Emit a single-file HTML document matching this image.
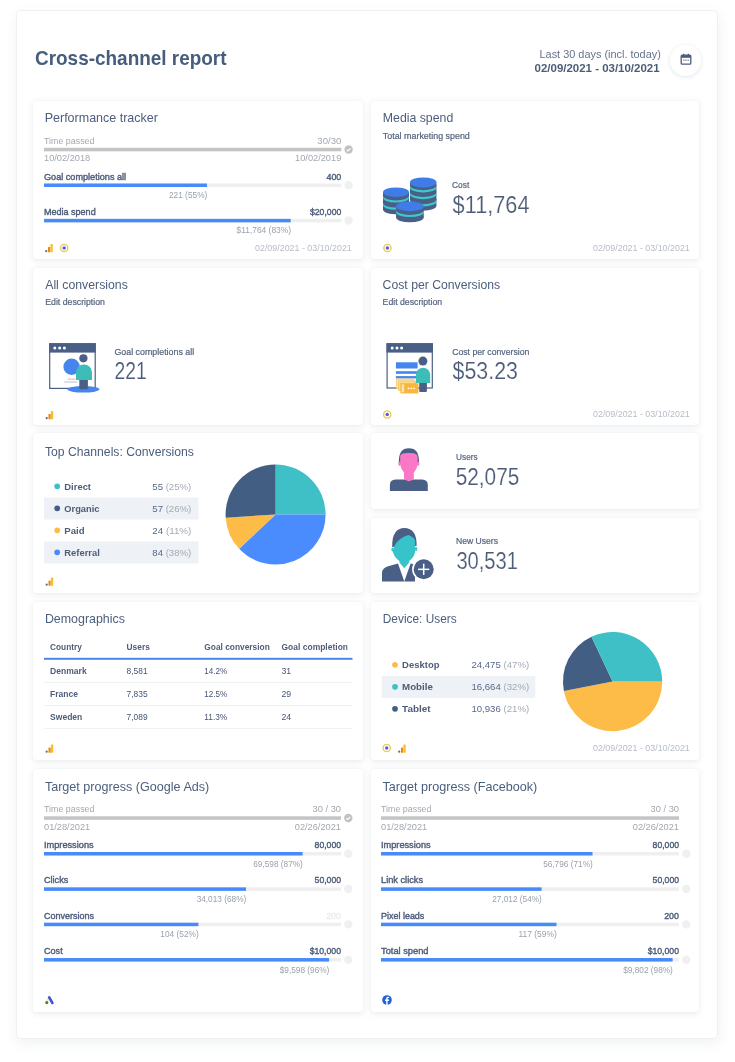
<!DOCTYPE html><html><head><meta charset="utf-8"><style>
html,body{margin:0;padding:0;width:735px;height:1062px;overflow:hidden;background:#fff;}
body{position:relative;font-family:"Liberation Sans", sans-serif;}
.card{position:absolute;background:#fff;border-radius:3px;box-shadow:0 0 1px rgba(50,60,90,0.10), 0 1.5px 6px rgba(60,75,110,0.10);}
.outer{position:absolute;left:17px;top:11px;width:700px;height:1027px;background:#fff;border-radius:4px;box-shadow:0 0 0 1px #f0f0f2, 1px 4px 14px rgba(60,75,110,0.09);}
svg.full{position:absolute;left:0;top:0;will-change:transform;}
</style></head><body>
<div class="outer"></div>
<div style="position:absolute;left:670px;top:44.5px;width:31px;height:31px;border-radius:50%;background:#fff;box-shadow:0 1px 4px rgba(60,70,90,0.14)"></div>
<div class="card" style="left:33px;top:100.5px;width:329.5px;height:158.8px"></div>
<div class="card" style="left:371px;top:100.5px;width:328px;height:158.8px"></div>
<div class="card" style="left:33px;top:268px;width:329.5px;height:156.8px"></div>
<div class="card" style="left:371px;top:268px;width:328px;height:156.8px"></div>
<div class="card" style="left:33px;top:433.2px;width:329.5px;height:159.6px"></div>
<div class="card" style="left:371px;top:433.2px;width:328px;height:75.6px"></div>
<div class="card" style="left:371px;top:517.8px;width:328px;height:75px"></div>
<div class="card" style="left:33px;top:602px;width:329.5px;height:158.4px"></div>
<div class="card" style="left:371px;top:602px;width:328px;height:158.4px"></div>
<div class="card" style="left:33px;top:769px;width:329.5px;height:243.3px"></div>
<div class="card" style="left:371px;top:769px;width:328px;height:243.3px"></div>
<svg class="full" width="735" height="1062" viewBox="0 0 735 1062" font-family="Liberation Sans, sans-serif">
<defs><clipPath id="demoClip"><rect x="270" y="630" width="77.6" height="30"/></clipPath></defs>
<g transform="translate(680,53)">
<rect x="1.2" y="2.2" width="9.6" height="9" rx="1" fill="none" stroke="#4a5d7e" stroke-width="1.3"/>
<rect x="1.2" y="2.2" width="9.6" height="2.6" fill="#4a5d7e"/>
<rect x="3" y="0.8" width="1.3" height="2.4" fill="#4a5d7e"/><rect x="7.7" y="0.8" width="1.3" height="2.4" fill="#4a5d7e"/>
<rect x="3.2" y="6.6" width="1.2" height="1.1" fill="#4a5d7e"/><rect x="5.4" y="6.6" width="1.2" height="1.1" fill="#4a5d7e"/><rect x="7.6" y="6.6" width="1.2" height="1.1" fill="#4a5d7e"/></g>
<rect x="44" y="147.8" width="297.3" height="3.5" fill="#c4c4c4" />
<circle cx="348.6" cy="149.5" r="4.2" fill="#c2c2c2"/><path d="M346.6 149.6 L348.0 150.9 L350.6 148.3" fill="none" stroke="#fff" stroke-width="1.1"/>
<rect x="44" y="183.5" width="297.3" height="3.5" fill="#efefef" />
<rect x="44" y="183.5" width="163" height="3.5" fill="#468afb" />
<circle cx="348.6" cy="185.2" r="4.2" fill="#f0f0f0"/>
<rect x="44" y="218.85" width="297.3" height="3.5" fill="#efefef" />
<rect x="44" y="218.85" width="246.7" height="3.5" fill="#468afb" />
<circle cx="348.6" cy="220.54999999999998" r="4.2" fill="#f0f0f0"/>
<g transform="translate(45,244)">
<circle cx="1.2" cy="7.2" r="1.1" fill="#7a6a50"/>
<rect x="3" y="3" width="2.2" height="5.3" rx="0.6" fill="#e8890c"/>
<rect x="5.4" y="0" width="2.3" height="8.3" rx="0.6" fill="#fbbc2a"/></g>
<circle cx="64.2" cy="248" r="3.6" fill="#fff" stroke="#e9c95a" stroke-width="1.4"/><circle cx="64.2" cy="248" r="1.7" fill="#4f5fd6"/>
<circle cx="387.4" cy="248" r="3.6" fill="#fff" stroke="#e9c95a" stroke-width="1.4"/><circle cx="387.4" cy="248" r="1.7" fill="#4f5fd6"/>
<g transform="translate(45.5,411)">
<circle cx="1.2" cy="7.2" r="1.1" fill="#7a6a50"/>
<rect x="3" y="3" width="2.2" height="5.3" rx="0.6" fill="#e8890c"/>
<rect x="5.4" y="0" width="2.3" height="8.3" rx="0.6" fill="#fbbc2a"/></g>
<circle cx="387.2" cy="414.5" r="3.6" fill="#fff" stroke="#e9c95a" stroke-width="1.4"/><circle cx="387.2" cy="414.5" r="1.7" fill="#4f5fd6"/>
<circle cx="57.2" cy="486.3" r="2.85" fill="#3fc0c6"/>
<rect x="44" y="497.5" width="154.4" height="22" fill="#eef1f5" />
<circle cx="57.2" cy="508.3" r="2.85" fill="#435e83"/>
<circle cx="57.2" cy="530.3" r="2.85" fill="#fdbb48"/>
<rect x="44" y="541.5" width="154.4" height="22" fill="#eef1f5" />
<circle cx="57.2" cy="552.3" r="2.85" fill="#468afb"/>
<path d="M275.6,514.5 L275.60,464.50 A50,50 0 0 1 325.60,514.50 Z" fill="#3fc0c6"/><path d="M275.6,514.5 L325.60,514.50 A50,50 0 0 1 239.15,548.73 Z" fill="#4a8bfe"/><path d="M275.6,514.5 L239.15,548.73 A50,50 0 0 1 225.70,517.64 Z" fill="#fdbb48"/><path d="M275.6,514.5 L225.70,517.64 A50,50 0 0 1 275.60,464.50 Z" fill="#435e83"/>
<g transform="translate(45.5,577.5)">
<circle cx="1.2" cy="7.2" r="1.1" fill="#7a6a50"/>
<rect x="3" y="3" width="2.2" height="5.3" rx="0.6" fill="#e8890c"/>
<rect x="5.4" y="0" width="2.3" height="8.3" rx="0.6" fill="#fbbc2a"/></g>
<rect x="44" y="657.8" width="308.5" height="2" fill="#4a86e8" />
<rect x="44" y="682" width="308.5" height="1" fill="#f0f1f3" />
<rect x="44" y="705" width="308.5" height="1" fill="#f0f1f3" />
<rect x="44" y="728" width="308.5" height="1" fill="#f0f1f3" />
<g transform="translate(45.5,744.5)">
<circle cx="1.2" cy="7.2" r="1.1" fill="#7a6a50"/>
<rect x="3" y="3" width="2.2" height="5.3" rx="0.6" fill="#e8890c"/>
<rect x="5.4" y="0" width="2.3" height="8.3" rx="0.6" fill="#fbbc2a"/></g>
<circle cx="395.0" cy="664.8" r="2.85" fill="#fdbb48"/>
<rect x="381.8" y="676.0" width="153.49999999999994" height="22" fill="#eef1f5" />
<circle cx="395.0" cy="686.8" r="2.85" fill="#3fc0c6"/>
<circle cx="395.0" cy="708.8" r="2.85" fill="#435e83"/>
<path d="M612.6,681.6 L662.20,681.60 A49.6,49.6 0 0 1 563.88,690.89 Z" fill="#fdbb48"/><path d="M612.6,681.6 L563.88,690.89 A49.6,49.6 0 0 1 591.48,636.72 Z" fill="#435e83"/><path d="M612.6,681.6 L591.48,636.72 A49.6,49.6 0 0 1 662.20,681.60 Z" fill="#3fc0c6"/>
<circle cx="386.7" cy="748" r="3.6" fill="#fff" stroke="#e9c95a" stroke-width="1.4"/><circle cx="386.7" cy="748" r="1.7" fill="#4f5fd6"/>
<g transform="translate(398,744.5)">
<circle cx="1.2" cy="7.2" r="1.1" fill="#7a6a50"/>
<rect x="3" y="3" width="2.2" height="5.3" rx="0.6" fill="#e8890c"/>
<rect x="5.4" y="0" width="2.3" height="8.3" rx="0.6" fill="#fbbc2a"/></g>
<rect x="44" y="816.3" width="297" height="3.5" fill="#c4c4c4" />
<circle cx="348.3" cy="818.0" r="4.2" fill="#c2c2c2"/><path d="M346.3 818.1 L347.7 819.4 L350.3 816.8" fill="none" stroke="#fff" stroke-width="1.1"/>
<rect x="44" y="852" width="297" height="3.5" fill="#efefef" />
<rect x="44" y="852" width="258.6" height="3.5" fill="#468afb" />
<circle cx="348.3" cy="853.7" r="4.2" fill="#f0f0f0"/>
<rect x="44" y="887.35" width="297" height="3.5" fill="#efefef" />
<rect x="44" y="887.35" width="202" height="3.5" fill="#468afb" />
<circle cx="348.3" cy="889.0500000000001" r="4.2" fill="#f0f0f0"/>
<rect x="44" y="922.7" width="297" height="3.5" fill="#efefef" />
<rect x="44" y="922.7" width="154.4" height="3.5" fill="#468afb" />
<circle cx="348.3" cy="924.4000000000001" r="4.2" fill="#f0f0f0"/>
<rect x="44" y="958.0500000000001" width="297" height="3.5" fill="#efefef" />
<rect x="44" y="958.0500000000001" width="285.1" height="3.5" fill="#468afb" />
<circle cx="348.3" cy="959.7500000000001" r="4.2" fill="#f0f0f0"/>
<g transform="translate(44,995)">
<path d="M5.1 2.6 L3.4 5.4" stroke="#f8e7a0" stroke-width="2" stroke-linecap="round"/>
<path d="M5.2 2.4 L8.4 8" stroke="#4152dc" stroke-width="2.6" stroke-linecap="round"/>
<circle cx="2.8" cy="7.6" r="1.6" fill="#3d8a2e"/></g>
<rect x="381" y="816.3" width="298" height="3.5" fill="#c4c4c4" />
<rect x="381" y="852" width="298" height="3.5" fill="#efefef" />
<rect x="381" y="852" width="211.5" height="3.5" fill="#468afb" />
<circle cx="686.3" cy="853.7" r="4.2" fill="#f0f0f0"/>
<rect x="381" y="887.35" width="298" height="3.5" fill="#efefef" />
<rect x="381" y="887.35" width="160.60000000000002" height="3.5" fill="#468afb" />
<circle cx="686.3" cy="889.0500000000001" r="4.2" fill="#f0f0f0"/>
<rect x="381" y="922.7" width="298" height="3.5" fill="#efefef" />
<rect x="381" y="922.7" width="175.5" height="3.5" fill="#468afb" />
<circle cx="686.3" cy="924.4000000000001" r="4.2" fill="#f0f0f0"/>
<rect x="381" y="958.0500000000001" width="298" height="3.5" fill="#efefef" />
<rect x="381" y="958.0500000000001" width="291.6" height="3.5" fill="#468afb" />
<circle cx="686.3" cy="959.7500000000001" r="4.2" fill="#f0f0f0"/>
<g transform="translate(382,995)">
<circle cx="5" cy="5" r="4.8" fill="#1f63d8"/>
<path d="M5.6 10 V5.9 H6.9 L7.1 4.5 H5.6 V3.7 C5.6 3.3 5.8 3.1 6.2 3.1 H7.1 V1.9 C6.8 1.85 6.4 1.8 6 1.8 C4.9 1.8 4.2 2.5 4.2 3.6 V4.5 H3 V5.9 H4.2 V10 Z" fill="#fff"/></g>
<ellipse cx="423.2" cy="205.8" rx="13.2" ry="5.0" fill="#4a5f86"/><rect x="410.0" y="182.4" width="26.4" height="23.400000000000006" fill="#4a5f86"/><ellipse cx="423.2" cy="201.4" rx="13.2" ry="5.0" fill="#3cc8cc"/><ellipse cx="423.2" cy="199.20000000000002" rx="13.2" ry="5.0" fill="#4a5f86"/><ellipse cx="423.2" cy="194.2" rx="13.2" ry="5.0" fill="#3cc8cc"/><ellipse cx="423.2" cy="192.0" rx="13.2" ry="5.0" fill="#4a5f86"/><ellipse cx="423.2" cy="187.5" rx="13.2" ry="5.0" fill="#3cc8cc"/><ellipse cx="423.2" cy="185.3" rx="13.2" ry="5.0" fill="#4a5f86"/><ellipse cx="423.2" cy="182.4" rx="13.2" ry="5.0" fill="#3f7ce8"/><ellipse cx="396.0" cy="209.5" rx="13.0" ry="4.8" fill="#4a5f86"/><rect x="383.0" y="192.2" width="26.0" height="17.30000000000001" fill="#4a5f86"/><ellipse cx="396.0" cy="204.99999999999997" rx="13.0" ry="4.8" fill="#3cc8cc"/><ellipse cx="396.0" cy="202.79999999999998" rx="13.0" ry="4.8" fill="#4a5f86"/><ellipse cx="396.0" cy="197.79999999999998" rx="13.0" ry="4.8" fill="#3cc8cc"/><ellipse cx="396.0" cy="195.6" rx="13.0" ry="4.8" fill="#4a5f86"/><ellipse cx="396.0" cy="192.2" rx="13.0" ry="4.8" fill="#3f7ce8"/><ellipse cx="409.9" cy="217.5" rx="13.8" ry="4.8" fill="#4a5f86"/><rect x="396.09999999999997" y="206.4" width="27.6" height="11.099999999999994" fill="#4a5f86"/><ellipse cx="409.9" cy="212.29999999999998" rx="13.8" ry="4.8" fill="#3cc8cc"/><ellipse cx="409.9" cy="210.1" rx="13.8" ry="4.8" fill="#4a5f86"/><ellipse cx="409.9" cy="206.4" rx="13.8" ry="4.8" fill="#3f7ce8"/>
<rect x="49.7" y="343.8" width="45.5" height="44.6" fill="#fff" stroke="#4a5f86" stroke-width="1.2"/><rect x="49.1" y="343.2" width="46.7" height="9.4" fill="#4a5f86"/><circle cx="54.8" cy="347.9" r="1.5" fill="#fff"/><circle cx="59.7" cy="347.9" r="1.5" fill="#fff"/><circle cx="64.4" cy="347.9" r="1.5" fill="#fff"/><circle cx="71.6" cy="366.8" r="8.2" fill="#4684ee"/><rect x="67.5" y="378.5" width="8" height="1.2" fill="#e9b9cc"/><rect x="64.2" y="381.4" width="13" height="1.2" fill="#c4ccd8"/><ellipse cx="83.4" cy="389.3" rx="16" ry="3.3" fill="#4684ee"/><rect x="79.3" y="378" width="8.6" height="11.3" rx="1" fill="#4a5f86"/><path d="M76,380 L76,372.4 A8,8 0 0 1 92,372.4 L92,380 Z" fill="#3cbdb8"/><circle cx="83.4" cy="358.3" r="4.1" fill="#4a5f86"/><rect x="387.1" y="343.8" width="45.2" height="44.2" fill="#fff" stroke="#4a5f86" stroke-width="1.2"/><rect x="386.5" y="343.2" width="46.4" height="9.4" fill="#4a5f86"/><circle cx="392.2" cy="347.9" r="1.5" fill="#fff"/><circle cx="397.0" cy="347.9" r="1.5" fill="#fff"/><circle cx="401.6" cy="347.9" r="1.5" fill="#fff"/><rect x="395.9" y="362.3" width="21.7" height="6.2" fill="#4684ee"/><rect x="395.9" y="371.2" width="21.7" height="2.6" fill="#4684ee"/><rect x="395.9" y="376.1" width="21.7" height="2.3" fill="#4684ee"/><rect x="396.3" y="379" width="17.5" height="9.5" fill="#fde3a6" stroke="#f6c45a" stroke-width="0.6"/><rect x="398.3" y="381" width="17.5" height="9.5" fill="#fcd98a" stroke="#f6c45a" stroke-width="0.6"/><rect x="400.4" y="383.2" width="18" height="10.2" fill="#f8b63c"/><rect x="401.6" y="384.4" width="2.6" height="7.8" fill="#fde7b5"/><circle cx="408.5" cy="388.3" r="0.9" fill="#fff"/><circle cx="411.2" cy="388.3" r="0.9" fill="#fff"/><circle cx="413.9" cy="388.3" r="0.9" fill="#fff"/><rect x="419.2" y="380" width="7.7" height="12.1" rx="1" fill="#4a5f86"/><path d="M415.9,383 L415.9,374.8 A7.15,7.15 0 0 1 430.2,374.8 L430.2,383 Z" fill="#3cbdb8"/><circle cx="422.9" cy="361.1" r="4.5" fill="#4a5f86"/><path d="M389.9,491 L389.9,485 Q389.9,479.8 395.5,479.6 L422.2,479.6 Q427.8,479.8 427.8,485 L427.8,491 Z" fill="#4a5f86"/><path d="M404,468 L404,478.8 Q408.9,483.6 413.8,478.8 L413.8,468 Z" fill="#fb78c6"/><path d="M398.9,464 C398.2,452.5 402,448.2 408.9,448.2 C415.8,448.2 419.6,452.5 418.9,464 Z" fill="#4a5f86"/><path d="M400.2,456.5 C400.2,453.6 404,453 408.9,453 C413.8,453 417.6,453.6 417.6,457 L417.6,462.5 C417.6,467.5 415.5,470.5 413.8,472.5 L404,472.5 C402.3,470.5 400.2,467.5 400.2,462.5 Z" fill="#fb78c6"/><ellipse cx="399.6" cy="463.8" rx="1.3" ry="2.1" fill="#fb78c6"/><ellipse cx="418.2" cy="463.8" rx="1.3" ry="2.1" fill="#fb78c6"/><path d="M382,581.6 L382,573.5 C382,569 385,567 389,566 L398,563.6 L404.3,581.6 Z" fill="#4a5f86"/><path d="M410.6,563.6 L415,564.6 L415,581.6 L404.3,581.6 Z" fill="#4a5f86"/><path d="M392.2,547 C391.8,534 396.5,528 404.4,528 C412.5,528 417,534 416.6,546 Z" fill="#4a5f86"/><path d="M394.5,546 C397,540.5 402,537 408.5,535 C412,536.5 414.6,538 415.2,540.5 L415.2,550 C415.2,555 412.3,558.8 409.2,561 L409.2,562.6 L404.3,568.3 L399.4,562.6 L399.4,561 C396.3,558.8 392.8,555 392.8,550 Z" fill="#36c3c9"/><ellipse cx="392.6" cy="549.5" rx="1.2" ry="2" fill="#36c3c9"/><ellipse cx="416.1" cy="549" rx="1.2" ry="2" fill="#36c3c9"/><circle cx="423.7" cy="569.3" r="11.6" fill="#fff"/><circle cx="423.7" cy="569.3" r="10" fill="#4a5f86"/><rect x="418.1" y="568.6" width="11.2" height="1.5" fill="#fff"/><rect x="422.95" y="563.7" width="1.5" height="11.2" fill="#fff"/>
<text x="35.00" y="65.30" font-size="20.66" fill="#475d7e" text-anchor="start" font-weight="700" textLength="191.55" lengthAdjust="spacingAndGlyphs">Cross-channel report</text>
<text x="539.50" y="57.90" font-size="11.36" fill="#65728a" text-anchor="start" textLength="121.36" lengthAdjust="spacingAndGlyphs">Last 30 days (incl. today)</text>
<text x="534.60" y="72.00" font-size="11.36" fill="#4d5c76" text-anchor="start" font-weight="700" textLength="124.97" lengthAdjust="spacingAndGlyphs">02/09/2021 - 03/10/2021</text>
<text x="44.70" y="122.20" font-size="13.43" fill="#4c5e7d" text-anchor="start" textLength="113.27" lengthAdjust="spacingAndGlyphs">Performance tracker</text>
<text x="44.00" y="143.80" font-size="9.30" fill="#a2a8b2" text-anchor="start" textLength="50.44" lengthAdjust="spacingAndGlyphs">Time passed</text>
<text x="341.30" y="143.80" font-size="9.30" fill="#a2a8b2" text-anchor="end" textLength="23.92" lengthAdjust="spacingAndGlyphs">30/30</text>
<text x="44.00" y="161.30" font-size="8.99" fill="#a2a8b2" text-anchor="start" textLength="46.24" lengthAdjust="spacingAndGlyphs">10/02/2018</text>
<text x="341.30" y="161.30" font-size="8.99" fill="#a2a8b2" text-anchor="end" textLength="46.24" lengthAdjust="spacingAndGlyphs">10/02/2019</text>
<text x="44.00" y="179.50" font-size="9.09" fill="#4d5d7a" text-anchor="start" textLength="82.12" lengthAdjust="spacingAndGlyphs" stroke="#4d5d7a" stroke-width="0.4">Goal completions all</text>
<text x="341.30" y="179.50" font-size="9.09" fill="#4d5d7a" text-anchor="end" textLength="14.82" lengthAdjust="spacingAndGlyphs" stroke="#4d5d7a" stroke-width="0.4">400</text>
<text x="207.30" y="198.00" font-size="8.88" fill="#9aa1ab" text-anchor="end" textLength="38.36" lengthAdjust="spacingAndGlyphs">221 (55%)</text>
<text x="44.00" y="214.85" font-size="9.09" fill="#4d5d7a" text-anchor="start" textLength="51.65" lengthAdjust="spacingAndGlyphs" stroke="#4d5d7a" stroke-width="0.4">Media spend</text>
<text x="341.30" y="214.85" font-size="9.09" fill="#4d5d7a" text-anchor="end" textLength="31.34" lengthAdjust="spacingAndGlyphs" stroke="#4d5d7a" stroke-width="0.4">$20,000</text>
<text x="291.00" y="233.35" font-size="8.88" fill="#9aa1ab" text-anchor="end" textLength="54.50" lengthAdjust="spacingAndGlyphs">$11,764 (83%)</text>
<text x="255.00" y="250.50" font-size="9.30" fill="#b7bcc5" text-anchor="start" textLength="96.78" lengthAdjust="spacingAndGlyphs">02/09/2021 - 03/10/2021</text>
<text x="382.80" y="122.30" font-size="13.43" fill="#4c5e7d" text-anchor="start" textLength="70.45" lengthAdjust="spacingAndGlyphs">Media spend</text>
<text x="382.80" y="139.00" font-size="9.30" fill="#56657f" text-anchor="start" textLength="87.02" lengthAdjust="spacingAndGlyphs" stroke="#56657f" stroke-width="0.22">Total marketing spend</text>
<text x="452.10" y="188.40" font-size="9.30" fill="#56657f" text-anchor="start" textLength="17.17" lengthAdjust="spacingAndGlyphs" stroke="#56657f" stroke-width="0.22">Cost</text>
<text x="452.60" y="212.80" font-size="23.24" fill="#4d5d78" text-anchor="start" textLength="76.90" lengthAdjust="spacingAndGlyphs" stroke="#fff" stroke-width="0.15">$11,764</text>
<text x="593.00" y="250.50" font-size="9.30" fill="#b7bcc5" text-anchor="start" textLength="96.78" lengthAdjust="spacingAndGlyphs">02/09/2021 - 03/10/2021</text>
<text x="45.20" y="288.70" font-size="13.43" fill="#4c5e7d" text-anchor="start" textLength="82.66" lengthAdjust="spacingAndGlyphs">All conversions</text>
<text x="45.20" y="305.20" font-size="9.30" fill="#56657f" text-anchor="start" textLength="59.77" lengthAdjust="spacingAndGlyphs" stroke="#56657f" stroke-width="0.22">Edit description</text>
<text x="114.40" y="355.00" font-size="9.30" fill="#56657f" text-anchor="start" textLength="79.83" lengthAdjust="spacingAndGlyphs" stroke="#56657f" stroke-width="0.22">Goal completions all</text>
<text x="114.40" y="379.10" font-size="23.24" fill="#4d5d78" text-anchor="start" textLength="32.27" lengthAdjust="spacingAndGlyphs" stroke="#fff" stroke-width="0.15">221</text>
<text x="382.60" y="288.80" font-size="13.43" fill="#4c5e7d" text-anchor="start" textLength="117.56" lengthAdjust="spacingAndGlyphs">Cost per Conversions</text>
<text x="382.60" y="305.20" font-size="9.30" fill="#56657f" text-anchor="start" textLength="59.57" lengthAdjust="spacingAndGlyphs" stroke="#56657f" stroke-width="0.22">Edit description</text>
<text x="452.20" y="355.00" font-size="9.30" fill="#56657f" text-anchor="start" textLength="77.12" lengthAdjust="spacingAndGlyphs" stroke="#56657f" stroke-width="0.22">Cost per conversion</text>
<text x="452.60" y="379.10" font-size="23.24" fill="#4d5d78" text-anchor="start" textLength="65.36" lengthAdjust="spacingAndGlyphs" stroke="#fff" stroke-width="0.15">$53.23</text>
<text x="593.00" y="417.00" font-size="9.30" fill="#b7bcc5" text-anchor="start" textLength="96.78" lengthAdjust="spacingAndGlyphs">02/09/2021 - 03/10/2021</text>
<text x="44.90" y="455.80" font-size="13.43" fill="#4c5e7d" text-anchor="start" textLength="149.08" lengthAdjust="spacingAndGlyphs">Top Channels: Conversions</text>
<text x="64.30" y="489.60" font-size="9.71" fill="#4d5d7a" text-anchor="start" font-weight="700" textLength="26.72" lengthAdjust="spacingAndGlyphs">Direct</text>
<text x="152.30" y="489.60" font-size="9.71" fill="#58698a" text-anchor="start" textLength="39.00" lengthAdjust="spacingAndGlyphs"><tspan fill="#58698a">55 </tspan><tspan fill="#a4aab4">(25%)</tspan></text>
<text x="64.30" y="511.60" font-size="9.71" fill="#4d5d7a" text-anchor="start" font-weight="700" textLength="35.15" lengthAdjust="spacingAndGlyphs">Organic</text>
<text x="152.30" y="511.60" font-size="9.71" fill="#58698a" text-anchor="start" textLength="39.00" lengthAdjust="spacingAndGlyphs"><tspan fill="#58698a">57 </tspan><tspan fill="#a4aab4">(26%)</tspan></text>
<text x="64.30" y="533.60" font-size="9.71" fill="#4d5d7a" text-anchor="start" font-weight="700" textLength="20.25" lengthAdjust="spacingAndGlyphs">Paid</text>
<text x="152.30" y="533.60" font-size="9.71" fill="#58698a" text-anchor="start" textLength="39.00" lengthAdjust="spacingAndGlyphs"><tspan fill="#58698a">24 </tspan><tspan fill="#a4aab4">(11%)</tspan></text>
<text x="64.30" y="555.60" font-size="9.71" fill="#4d5d7a" text-anchor="start" font-weight="700" textLength="35.52" lengthAdjust="spacingAndGlyphs">Referral</text>
<text x="152.30" y="555.60" font-size="9.71" fill="#58698a" text-anchor="start" textLength="39.00" lengthAdjust="spacingAndGlyphs"><tspan fill="#58698a">84 </tspan><tspan fill="#a4aab4">(38%)</tspan></text>
<text x="456.10" y="459.60" font-size="9.30" fill="#56657f" text-anchor="start" textLength="21.51" lengthAdjust="spacingAndGlyphs" stroke="#56657f" stroke-width="0.22">Users</text>
<text x="455.70" y="484.90" font-size="23.24" fill="#4d5d78" text-anchor="start" textLength="63.56" lengthAdjust="spacingAndGlyphs" stroke="#fff" stroke-width="0.15">52,075</text>
<text x="456.10" y="543.60" font-size="9.30" fill="#56657f" text-anchor="start" textLength="41.90" lengthAdjust="spacingAndGlyphs" stroke="#56657f" stroke-width="0.22">New Users</text>
<text x="456.40" y="568.80" font-size="23.24" fill="#4d5d78" text-anchor="start" textLength="61.57" lengthAdjust="spacingAndGlyphs" stroke="#fff" stroke-width="0.15">30,531</text>
<text x="44.90" y="622.80" font-size="13.43" fill="#4c5e7d" text-anchor="start" textLength="80.06" lengthAdjust="spacingAndGlyphs">Demographics</text>
<text x="50.10" y="649.70" font-size="9.09" fill="#4d5d7a" text-anchor="start" font-weight="700" textLength="31.69" lengthAdjust="spacingAndGlyphs">Country</text>
<text x="126.60" y="649.70" font-size="9.09" fill="#4d5d7a" text-anchor="start" font-weight="700" textLength="23.20" lengthAdjust="spacingAndGlyphs">Users</text>
<text x="204.30" y="649.70" font-size="9.09" fill="#4d5d7a" text-anchor="start" font-weight="700" textLength="65.46" lengthAdjust="spacingAndGlyphs">Goal conversion</text>
<text x="281.50" y="649.70" font-size="9.09" fill="#4d5d7a" text-anchor="start" font-weight="700" textLength="71.22" lengthAdjust="spacingAndGlyphs" clip-path="url(#demoClip)">Goal completions</text>
<text x="50.10" y="673.50" font-size="9.09" fill="#4d5d7a" text-anchor="start" font-weight="700" textLength="36.59" lengthAdjust="spacingAndGlyphs">Denmark</text>
<text x="126.60" y="673.50" font-size="9.09" fill="#455674" text-anchor="start" textLength="21.03" lengthAdjust="spacingAndGlyphs">8,581</text>
<text x="204.30" y="673.50" font-size="9.09" fill="#455674" text-anchor="start" textLength="22.92" lengthAdjust="spacingAndGlyphs">14.2%</text>
<text x="281.50" y="673.50" font-size="9.09" fill="#455674" text-anchor="start" textLength="9.69" lengthAdjust="spacingAndGlyphs">31</text>
<text x="50.10" y="696.50" font-size="9.09" fill="#4d5d7a" text-anchor="start" font-weight="700" textLength="27.80" lengthAdjust="spacingAndGlyphs">France</text>
<text x="126.60" y="696.50" font-size="9.09" fill="#455674" text-anchor="start" textLength="21.03" lengthAdjust="spacingAndGlyphs">7,835</text>
<text x="204.30" y="696.50" font-size="9.09" fill="#455674" text-anchor="start" textLength="22.92" lengthAdjust="spacingAndGlyphs">12.5%</text>
<text x="281.50" y="696.50" font-size="9.09" fill="#455674" text-anchor="start" textLength="9.69" lengthAdjust="spacingAndGlyphs">29</text>
<text x="50.10" y="719.50" font-size="9.09" fill="#4d5d7a" text-anchor="start" font-weight="700" textLength="32.18" lengthAdjust="spacingAndGlyphs">Sweden</text>
<text x="126.60" y="719.50" font-size="9.09" fill="#455674" text-anchor="start" textLength="21.03" lengthAdjust="spacingAndGlyphs">7,089</text>
<text x="204.30" y="719.50" font-size="9.09" fill="#455674" text-anchor="start" textLength="22.92" lengthAdjust="spacingAndGlyphs">11.3%</text>
<text x="281.50" y="719.50" font-size="9.09" fill="#455674" text-anchor="start" textLength="9.69" lengthAdjust="spacingAndGlyphs">24</text>
<text x="382.80" y="622.80" font-size="13.43" fill="#4c5e7d" text-anchor="start" textLength="73.84" lengthAdjust="spacingAndGlyphs">Device: Users</text>
<text x="402.10" y="668.10" font-size="9.71" fill="#4d5d7a" text-anchor="start" font-weight="700" textLength="37.38" lengthAdjust="spacingAndGlyphs">Desktop</text>
<text x="471.40" y="668.10" font-size="9.71" fill="#58698a" text-anchor="start" textLength="57.77" lengthAdjust="spacingAndGlyphs"><tspan fill="#58698a">24,475 </tspan><tspan fill="#a4aab4">(47%)</tspan></text>
<text x="402.10" y="690.10" font-size="9.71" fill="#4d5d7a" text-anchor="start" font-weight="700">Mobile</text>
<text x="471.40" y="690.10" font-size="9.71" fill="#58698a" text-anchor="start" textLength="57.77" lengthAdjust="spacingAndGlyphs"><tspan fill="#58698a">16,664 </tspan><tspan fill="#a4aab4">(32%)</tspan></text>
<text x="402.10" y="712.10" font-size="9.71" fill="#4d5d7a" text-anchor="start" font-weight="700" textLength="28.57" lengthAdjust="spacingAndGlyphs">Tablet</text>
<text x="471.40" y="712.10" font-size="9.71" fill="#58698a" text-anchor="start" textLength="57.77" lengthAdjust="spacingAndGlyphs"><tspan fill="#58698a">10,936 </tspan><tspan fill="#a4aab4">(21%)</tspan></text>
<text x="593.00" y="750.50" font-size="9.30" fill="#b7bcc5" text-anchor="start" textLength="96.78" lengthAdjust="spacingAndGlyphs">02/09/2021 - 03/10/2021</text>
<text x="44.90" y="790.80" font-size="13.43" fill="#4c5e7d" text-anchor="start" textLength="164.41" lengthAdjust="spacingAndGlyphs">Target progress (Google Ads)</text>
<text x="44.00" y="812.30" font-size="9.30" fill="#a2a8b2" text-anchor="start" textLength="50.44" lengthAdjust="spacingAndGlyphs">Time passed</text>
<text x="341.00" y="812.30" font-size="9.30" fill="#a2a8b2" text-anchor="end">30 / 30</text>
<text x="44.00" y="829.80" font-size="8.99" fill="#a2a8b2" text-anchor="start" textLength="46.24" lengthAdjust="spacingAndGlyphs">01/28/2021</text>
<text x="341.00" y="829.80" font-size="8.99" fill="#a2a8b2" text-anchor="end" textLength="46.24" lengthAdjust="spacingAndGlyphs">02/26/2021</text>
<text x="44.00" y="848.00" font-size="9.09" fill="#4d5d7a" text-anchor="start" textLength="49.60" lengthAdjust="spacingAndGlyphs" stroke="#4d5d7a" stroke-width="0.4">Impressions</text>
<text x="341.00" y="848.00" font-size="9.09" fill="#4d5d7a" text-anchor="end" textLength="26.40" lengthAdjust="spacingAndGlyphs" stroke="#4d5d7a" stroke-width="0.4">80,000</text>
<text x="302.90" y="866.50" font-size="8.88" fill="#9aa1ab" text-anchor="end" textLength="49.67" lengthAdjust="spacingAndGlyphs">69,598 (87%)</text>
<text x="44.00" y="883.35" font-size="9.09" fill="#4d5d7a" text-anchor="start" stroke="#4d5d7a" stroke-width="0.4">Clicks</text>
<text x="341.00" y="883.35" font-size="9.09" fill="#4d5d7a" text-anchor="end" textLength="26.40" lengthAdjust="spacingAndGlyphs" stroke="#4d5d7a" stroke-width="0.4">50,000</text>
<text x="246.30" y="901.85" font-size="8.88" fill="#9aa1ab" text-anchor="end" textLength="49.67" lengthAdjust="spacingAndGlyphs">34,013 (68%)</text>
<text x="44.00" y="918.70" font-size="9.09" fill="#4d5d7a" text-anchor="start" textLength="49.96" lengthAdjust="spacingAndGlyphs" stroke="#4d5d7a" stroke-width="0.4">Conversions</text>
<text x="341.00" y="918.70" font-size="9.09" fill="#ececec" text-anchor="end" textLength="14.82" lengthAdjust="spacingAndGlyphs" stroke="#ececec" stroke-width="0.4">200</text>
<text x="198.70" y="937.20" font-size="8.88" fill="#9aa1ab" text-anchor="end" textLength="38.36" lengthAdjust="spacingAndGlyphs">104 (52%)</text>
<text x="44.00" y="954.05" font-size="9.09" fill="#4d5d7a" text-anchor="start" stroke="#4d5d7a" stroke-width="0.4">Cost</text>
<text x="341.00" y="954.05" font-size="9.09" fill="#4d5d7a" text-anchor="end" textLength="31.34" lengthAdjust="spacingAndGlyphs" stroke="#4d5d7a" stroke-width="0.4">$10,000</text>
<text x="329.40" y="972.55" font-size="8.88" fill="#9aa1ab" text-anchor="end" textLength="49.67" lengthAdjust="spacingAndGlyphs">$9,598 (96%)</text>
<text x="382.40" y="790.70" font-size="13.43" fill="#4c5e7d" text-anchor="start" textLength="154.93" lengthAdjust="spacingAndGlyphs">Target progress (Facebook)</text>
<text x="381.00" y="812.30" font-size="9.30" fill="#a2a8b2" text-anchor="start" textLength="50.44" lengthAdjust="spacingAndGlyphs">Time passed</text>
<text x="679.00" y="812.30" font-size="9.30" fill="#a2a8b2" text-anchor="end">30 / 30</text>
<text x="381.00" y="829.80" font-size="8.99" fill="#a2a8b2" text-anchor="start" textLength="46.24" lengthAdjust="spacingAndGlyphs">01/28/2021</text>
<text x="679.00" y="829.80" font-size="8.99" fill="#a2a8b2" text-anchor="end" textLength="46.24" lengthAdjust="spacingAndGlyphs">02/26/2021</text>
<text x="381.00" y="848.00" font-size="9.09" fill="#4d5d7a" text-anchor="start" textLength="49.60" lengthAdjust="spacingAndGlyphs" stroke="#4d5d7a" stroke-width="0.4">Impressions</text>
<text x="679.00" y="848.00" font-size="9.09" fill="#4d5d7a" text-anchor="end" textLength="26.40" lengthAdjust="spacingAndGlyphs" stroke="#4d5d7a" stroke-width="0.4">80,000</text>
<text x="592.80" y="866.50" font-size="8.88" fill="#9aa1ab" text-anchor="end" textLength="49.67" lengthAdjust="spacingAndGlyphs">56,796 (71%)</text>
<text x="381.00" y="883.35" font-size="9.09" fill="#4d5d7a" text-anchor="start" textLength="42.05" lengthAdjust="spacingAndGlyphs" stroke="#4d5d7a" stroke-width="0.4">Link clicks</text>
<text x="679.00" y="883.35" font-size="9.09" fill="#4d5d7a" text-anchor="end" textLength="26.40" lengthAdjust="spacingAndGlyphs" stroke="#4d5d7a" stroke-width="0.4">50,000</text>
<text x="541.90" y="901.85" font-size="8.88" fill="#9aa1ab" text-anchor="end" textLength="49.67" lengthAdjust="spacingAndGlyphs">27,012 (54%)</text>
<text x="381.00" y="918.70" font-size="9.09" fill="#4d5d7a" text-anchor="start" textLength="43.34" lengthAdjust="spacingAndGlyphs" stroke="#4d5d7a" stroke-width="0.4">Pixel leads</text>
<text x="679.00" y="918.70" font-size="9.09" fill="#4d5d7a" text-anchor="end" textLength="14.82" lengthAdjust="spacingAndGlyphs" stroke="#4d5d7a" stroke-width="0.4">200</text>
<text x="556.80" y="937.20" font-size="8.88" fill="#9aa1ab" text-anchor="end" textLength="38.36" lengthAdjust="spacingAndGlyphs">117 (59%)</text>
<text x="381.00" y="954.05" font-size="9.09" fill="#4d5d7a" text-anchor="start" textLength="47.54" lengthAdjust="spacingAndGlyphs" stroke="#4d5d7a" stroke-width="0.4">Total spend</text>
<text x="679.00" y="954.05" font-size="9.09" fill="#4d5d7a" text-anchor="end" textLength="31.34" lengthAdjust="spacingAndGlyphs" stroke="#4d5d7a" stroke-width="0.4">$10,000</text>
<text x="672.90" y="972.55" font-size="8.88" fill="#9aa1ab" text-anchor="end" textLength="49.67" lengthAdjust="spacingAndGlyphs">$9,802 (98%)</text>
</svg>
</body></html>
